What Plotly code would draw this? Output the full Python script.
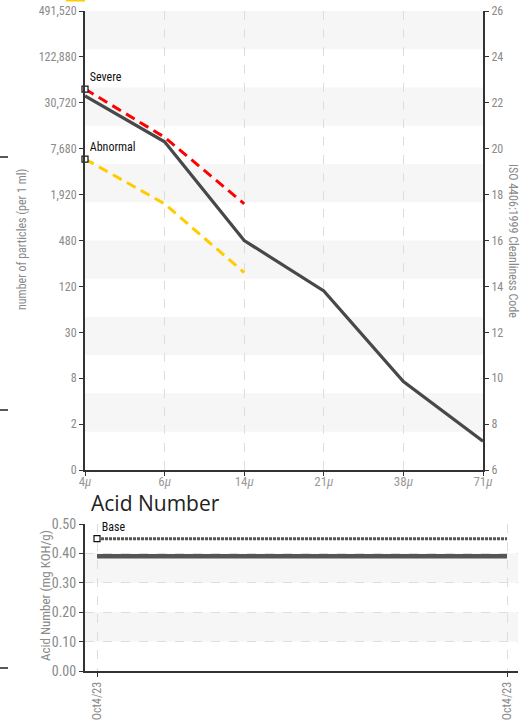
import plotly.graph_objects as go

W, H = 523, 722

# particle count chart (ISO 4406 code scale)
sizes = ['4μ', '6μ', '14μ', '21μ', '38μ', '71μ']
size_labels = ['4<i>μ</i>', '6<i>μ</i>', '14<i>μ</i>', '21<i>μ</i>', '38<i>μ</i>', '71<i>μ</i>']
iso_measured = [22.3, 20.3, 16.0, 13.8, 9.85, 7.25]
iso_severe = [22.6, 20.5, 17.6]
iso_abnormal = [19.55, 17.6, 14.6]
iso_ticks = [6, 8, 10, 12, 14, 16, 18, 20, 22, 24, 26]
count_labels = ['0', '2', '8', '30', '120', '480', '1,920', '7,680', '30,720', '122,880', '491,520']

# acid number chart
acid_samples = [0, 1]
acid_dates = ['Oct4/23', 'Oct4/23']
acid_values = [0.39, 0.39]
acid_base = [0.45, 0.45]

FONT = "Roboto Condensed, Noto Sans Condensed, DejaVu Sans Condensed, Liberation Sans Narrow, Roboto, sans-serif"
GRAY = '#8a8a8a'
AXIS = '#333333'
BAND = '#f6f6f6'
GRID = '#dddddd'


def px_x(x):
    return x / W


def px_y(y):
    return 1 - y / H


fig = go.Figure()

# top chart lines
fig.add_trace(go.Scatter(x=sizes, y=iso_measured, mode='lines', xaxis='x', yaxis='y',
                         line=dict(color='#484848', width=3.2)))
fig.add_trace(go.Scatter(x=sizes[:3], y=iso_severe, mode='lines', xaxis='x', yaxis='y',
                         line=dict(color='#ff0000', width=3, dash='10px,6px')))
fig.add_trace(go.Scatter(x=sizes[:3], y=iso_abnormal, mode='lines', xaxis='x', yaxis='y',
                         line=dict(color='#ffcc00', width=3, dash='10px,6px')))
for label, val in [('Severe', iso_severe[0]), ('Abnormal', iso_abnormal[0])]:
    fig.add_trace(go.Scatter(x=[sizes[0]], y=[val], mode='markers+text', text=[label],
                             textposition='top right', xaxis='x', yaxis='y',
                             textfont=dict(family=FONT, size=12, color='#111'),
                             marker=dict(symbol='square', size=6, color='white',
                                         line=dict(color='#111', width=1.2)),
                             cliponaxis=False))
# invisible trace to show right axis
fig.add_trace(go.Scatter(x=sizes, y=iso_measured, mode='lines', xaxis='x', yaxis='y3',
                         line=dict(width=0), hoverinfo='skip'))

# bottom chart lines
fig.add_trace(go.Scatter(x=acid_samples, y=acid_base, mode='lines', xaxis='x2', yaxis='y2',
                         line=dict(color='#555', width=3, dash='3px,1px')))
fig.add_trace(go.Scatter(x=acid_samples, y=acid_values, mode='lines', xaxis='x2', yaxis='y2',
                         line=dict(color='#555', width=4.5)))
fig.add_trace(go.Scatter(x=[acid_samples[0]], y=[acid_base[0]], mode='markers+text', text=['Base'],
                         textposition='top right', xaxis='x2', yaxis='y2',
                         textfont=dict(family=FONT, size=12, color='#111'),
                         marker=dict(symbol='square', size=6, color='white',
                                     line=dict(color='#111', width=1.2)), cliponaxis=False))

# alternating background bands
shapes = []
step = 20 / 12
for k in range(1, 12, 2):
    shapes.append(dict(type='rect', xref='x domain', yref='y', x0=0, x1=1,
                       y0=6 + k * step, y1=6 + (k + 1) * step,
                       fillcolor=BAND, line=dict(width=0), layer='below'))
for lo in [0.1, 0.3]:
    shapes.append(dict(type='rect', xref='x2 domain', yref='y2', x0=0, x1=1,
                       y0=lo, y1=lo + 0.1, fillcolor=BAND, line=dict(width=0), layer='below'))
# clipped bits of the neighbouring panels at the edges
for yy in [157, 410, 668]:
    shapes.append(dict(type='line', xref='paper', yref='paper', x0=0, x1=px_x(8),
                       y0=px_y(yy), y1=px_y(yy), line=dict(color='#222', width=1.5)))
shapes.append(dict(type='line', xref='paper', yref='paper', x0=px_x(66), x1=px_x(85),
                   y0=px_y(0.5), y1=px_y(0.5), line=dict(color='#ffcc00', width=2)))

top_dom = [px_y(470), px_y(11)]
bot_dom = [px_y(671), px_y(524)]

fig.update_layout(
    width=W, height=H,
    margin=dict(l=0, r=0, t=0, b=0, autoexpand=False),
    paper_bgcolor='white', plot_bgcolor='white',
    showlegend=False,
    font=dict(family=FONT, size=12, color=GRAY),
    shapes=shapes,
    xaxis=dict(domain=[px_x(85), px_x(483)], anchor='y', type='category',
               categoryorder='array', categoryarray=sizes, range=[0, 5],
               tickvals=sizes, ticktext=size_labels, automargin=False,
               showline=True, linecolor=AXIS, linewidth=2, ticks='outside',
               ticklen=4, tickcolor=AXIS, showgrid=True, gridcolor=GRID,
               ticklabelstandoff=-6,
               griddash='dash', zeroline=False, tickfont=dict(size=13, color='#999')),
    yaxis=dict(domain=top_dom, anchor='x', range=[6, 26], tickvals=iso_ticks,
               ticktext=count_labels, showline=True, linecolor=AXIS, linewidth=2,
               ticks='outside', ticklen=4, tickcolor=AXIS, showgrid=False,
               automargin=False, zeroline=False, tickfont=dict(size=12, color=GRAY)),
    yaxis3=dict(overlaying='y', side='right', anchor='x', range=[6, 26],
                tickvals=iso_ticks, showline=True, linecolor=AXIS, linewidth=2,
                ticks='outside', ticklen=4, tickcolor=AXIS, showgrid=False,
                automargin=False, zeroline=False, tickfont=dict(size=12, color=GRAY)),
    yaxis4=dict(overlaying='y', anchor='x', range=[6, 26], tick0=6, dtick=step,
                showticklabels=False, showline=False, ticks='', showgrid=True,
                automargin=False, gridcolor=GRID, griddash='dash', zeroline=False),
    xaxis2=dict(domain=[px_x(85), px_x(518)], anchor='y2',
                range=[-0.0293, 1.0268], tickvals=acid_samples, ticktext=acid_dates,
                tickangle=-90, showline=True, linecolor=AXIS, linewidth=2,
                ticks='outside', ticklen=4, tickcolor=AXIS, showgrid=True,
                automargin=False, gridcolor=GRID, griddash='dash', zeroline=False,
                tickfont=dict(size=12, color=GRAY)),
    yaxis2=dict(domain=bot_dom, anchor='x2', range=[0, 0.5], dtick=0.1,
                tickformat='.2f', showline=True, linecolor=AXIS, linewidth=2,
                ticks='outside', ticklen=4, tickcolor=AXIS, showgrid=True,
                automargin=False, gridcolor=GRID, griddash='dash', zeroline=False,
                tickfont=dict(size=14, color=GRAY)),
    annotations=[
        dict(text='number of particles (per 1 ml)', xref='paper', yref='paper',
             x=px_x(22), y=px_y(240), xanchor='center', yanchor='middle',
             textangle=-90, showarrow=False, font=dict(size=12, color=GRAY)),
        dict(text='ISO 4406:1999 Cleanliness Code', xref='paper', yref='paper',
             x=px_x(513), y=px_y(241), xanchor='center', yanchor='middle',
             textangle=90, showarrow=False, font=dict(size=12, color=GRAY)),
        dict(text='Acid Number (mg KOH/g)', xref='paper', yref='paper',
             x=px_x(45), y=px_y(596), xanchor='center', yanchor='middle',
             textangle=-90, showarrow=False, font=dict(size=13, color=GRAY)),
        dict(text='Acid Number', xref='paper', yref='paper', x=px_x(89), y=px_y(503),
             xanchor='left', yanchor='middle', showarrow=False,
             font=dict(family='Open Sans, sans-serif', size=21, color='#222')),
    ],
)

# drop the page's default body margin so the figure sits at the window corner
fig.write_html("out.html", config={'displayModeBar': False},
               post_script="document.body.style.margin='0px';")
